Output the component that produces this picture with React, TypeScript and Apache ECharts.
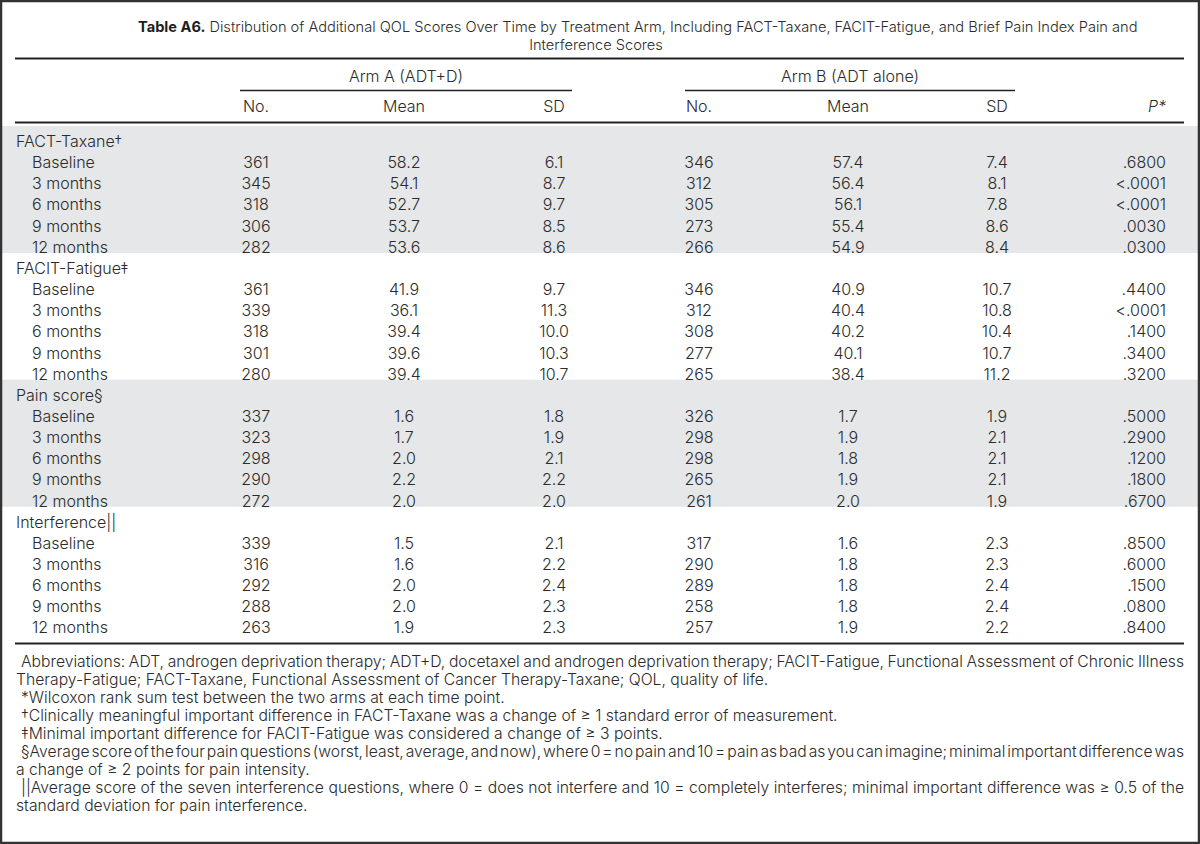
import React, { useEffect, useRef } from "react";
import * as echarts from "echarts";

const TITLE_BOLD = "Table A6.";
const TITLE_LINE1 =
  " Distribution of Additional QOL Scores Over Time by Treatment Arm, Including FACT-Taxane, FACIT-Fatigue, and Brief Pain Index Pain and";
const TITLE_LINE2 = "Interference Scores";
const ARM_LABELS = ["Arm A (ADT+D)", "Arm B (ADT alone)"];
const COLUMN_HEADERS = ["No.", "Mean", "SD", "No.", "Mean", "SD"];
const P_HEADER = "P*";
const GROUPS = ["FACT-Taxane†", "FACIT-Fatigue‡", "Pain score§", "Interference||"];
const TIMEPOINTS = ["Baseline", "3 months", "6 months", "9 months", "12 months"];

const armANo = [361, 345, 318, 306, 282, 361, 339, 318, 301, 280, 337, 323, 298, 290, 272, 339, 316, 292, 288, 263];
const armAMean = [58.2, 54.1, 52.7, 53.7, 53.6, 41.9, 36.1, 39.4, 39.6, 39.4, 1.6, 1.7, 2.0, 2.2, 2.0, 1.5, 1.6, 2.0, 2.0, 1.9];
const armASD = [6.1, 8.7, 9.7, 8.5, 8.6, 9.7, 11.3, 10.0, 10.3, 10.7, 1.8, 1.9, 2.1, 2.2, 2.0, 2.1, 2.2, 2.4, 2.3, 2.3];
const armBNo = [346, 312, 305, 273, 266, 346, 312, 308, 277, 265, 326, 298, 298, 265, 261, 317, 290, 289, 258, 257];
const armBMean = [57.4, 56.4, 56.1, 55.4, 54.9, 40.9, 40.4, 40.2, 40.1, 38.4, 1.7, 1.9, 1.8, 1.9, 2.0, 1.6, 1.8, 1.8, 1.8, 1.9];
const armBSD = [7.4, 8.1, 7.8, 8.6, 8.4, 10.7, 10.8, 10.4, 10.7, 11.2, 1.9, 2.1, 2.1, 2.1, 1.9, 2.3, 2.3, 2.4, 2.4, 2.2];
const pValues = [
  ".6800", "<.0001", "<.0001", ".0030", ".0300",
  ".4400", "<.0001", ".1400", ".3400", ".3200",
  ".5000", ".2900", ".1200", ".1800", ".6700",
  ".8500", ".6000", ".1500", ".0800", ".8400",
];

const FOOTNOTES = [
  "Abbreviations: ADT, androgen deprivation therapy; ADT+D, docetaxel and androgen deprivation therapy; FACIT-Fatigue, Functional Assessment of Chronic Illness",
  "Therapy-Fatigue; FACT-Taxane, Functional Assessment of Cancer Therapy-Taxane; QOL, quality of life.",
  "*Wilcoxon rank sum test between the two arms at each time point.",
  "†Clinically meaningful important difference in FACT-Taxane was a change of ≥ 1 standard error of measurement.",
  "‡Minimal important difference for FACIT-Fatigue was considered a change of ≥ 3 points.",
  "§Average score of the four pain questions (worst, least, average, and now), where 0 = no pain and 10 = pain as bad as you can imagine; minimal important difference was",
  "a change of ≥ 2 points for pain intensity.",
  "||Average score of the seven interference questions, where 0 = does not interfere and 10 = completely interferes; minimal important difference was ≥ 0.5 of the",
  "standard deviation for pain interference.",
];
const FOOTNOTE_INDENT = [true, false, true, true, true, true, false, true, false];
const FOOTNOTE_JUSTIFY = [true, false, false, false, false, true, false, true, false];

// layout
const FONT = "Inter, 'Liberation Sans', Arial, sans-serif";
const WEIGHT = 300;
const FS = 16;
const TEXT = "#2b2b2b";
const RULE = "#222";
const BAND = "#e6e7e8";
const LEFT = 15;
const RIGHT = 1184;
const ROW0 = 141;
const ROWH = 21.15;
const COLX = [256, 404, 554, 699, 848, 997];
const PX = 1166;
const ARM_SPAN = [
  [240, 572],
  [685, 1015],
];
const TITLE_X0 = 138;
const TITLE_X1 = 1138;
const TITLE2_CX = 596;
const FOOT_REF_LINE = 3;
const FOOT_REF_END = 838;

function buildGraphics() {
  const els: any[] = [];
  const canvas = document.createElement("canvas");
  const ctx = canvas.getContext("2d");
  const measure = (s: string, fs: number, weight: any = WEIGHT) => {
    if (!ctx) return s.length * fs * 0.5;
    ctx.font = `${weight} ${fs}px ${FONT}`;
    return ctx.measureText(s).width;
  };

  const txt = (x: number, y: number, text: string, align = "left", fs = FS, extra: any = {}) => ({
    type: "text",
    x,
    y,
    style: {
      text,
      fill: TEXT,
      fontSize: fs,
      fontFamily: FONT,
      fontWeight: WEIGHT,
      align,
      verticalAlign: "middle",
      ...extra,
    },
  });
  const hline = (x1: number, x2: number, y: number, w: number) => ({
    type: "line",
    shape: { x1, y1: y, x2, y2: y },
    style: { stroke: RULE, lineWidth: w },
  });

  // bands
  GROUPS.forEach((_, g) => {
    if (g % 2 === 0) {
      els.push({
        type: "rect",
        shape: { x: 0, y: ROW0 + g * 6 * ROWH - 15, width: 1200, height: 6 * ROWH },
        style: { fill: BAND },
      });
    }
  });

  // title: fit line 1 between TITLE_X0 and TITLE_X1
  const w15 = measure(TITLE_BOLD, 15, "bold") + measure(TITLE_LINE1, 15);
  const tfs = Math.min(17, (15 * (TITLE_X1 - TITLE_X0)) / w15);
  els.push({
    type: "text",
    x: TITLE_X0,
    y: 27,
    style: {
      text: `{b|${TITLE_BOLD}}{n|${TITLE_LINE1}}`,
      align: "left",
      verticalAlign: "middle",
      rich: {
        b: { fontWeight: "bold", fontSize: tfs, fontFamily: FONT, fill: "#1e1e1e" },
        n: { fontWeight: WEIGHT, fontSize: tfs, fontFamily: FONT, fill: TEXT },
      },
    },
  });
  els.push(txt(TITLE2_CX, 45, TITLE_LINE2, "center", tfs));

  // rules
  els.push(hline(LEFT, RIGHT, 58.5, 2));
  els.push(hline(LEFT, RIGHT, 122.5, 2));
  els.push(hline(LEFT, RIGHT, 643.5, 2));
  ARM_SPAN.forEach(([a, b], i) => {
    els.push(hline(a, b, 90.5, 1.3));
    els.push(txt((a + b) / 2, 76, ARM_LABELS[i], "center"));
  });
  COLUMN_HEADERS.forEach((h, i) => els.push(txt(COLX[i], 106, h, "center")));
  els.push(txt(PX, 106, P_HEADER, "right", FS, { fontStyle: "italic" }));

  // body
  GROUPS.forEach((gname, g) => {
    const gy = ROW0 + g * 6 * ROWH;
    els.push(txt(16, gy, gname));
    TIMEPOINTS.forEach((tp, t) => {
      const r = g * 5 + t;
      const y = gy + (t + 1) * ROWH;
      els.push(txt(32, y, tp));
      const cells = [
        String(armANo[r]),
        armAMean[r].toFixed(1),
        armASD[r].toFixed(1),
        String(armBNo[r]),
        armBMean[r].toFixed(1),
        armBSD[r].toFixed(1),
      ];
      cells.forEach((c, i) => els.push(txt(COLX[i], y, c, "center")));
      els.push(txt(PX, y, pValues[r], "right"));
    });
  });

  // footnotes: size chosen so the reference line reaches its measured end
  const refW = measure(FOOTNOTES[FOOT_REF_LINE], 15);
  const ffs = Math.min(18, (15 * (FOOT_REF_END - 21)) / refW);
  FOOTNOTES.forEach((line, i) => {
    const y = 661 + i * 18.1;
    const x0 = FOOTNOTE_INDENT[i] ? 21 : 16;
    if (FOOTNOTE_JUSTIFY[i] && ctx) {
      const words = line.split(" ");
      const widths = words.map((w) => measure(w, ffs));
      const total = widths.reduce((a, b) => a + b, 0);
      const gap = (RIGHT - x0 - total) / (words.length - 1);
      let x = x0;
      const children: any[] = [];
      words.forEach((w, k) => {
        children.push(txt(x, y, w, "left", ffs));
        x += widths[k] + gap;
      });
      els.push({ type: "group", children });
    } else {
      els.push(txt(x0, y, line, "left", ffs));
    }
  });

  // frame
  els.push({
    type: "rect",
    shape: { x: 1, y: 1, width: 1198, height: 842 },
    style: { fill: "none", stroke: "#333", lineWidth: 2.5 },
  });
  return els;
}

export default function App() {
  const ref = useRef<HTMLDivElement>(null);
  useEffect(() => {
    if (!ref.current) return;
    const chart = echarts.init(ref.current, undefined, { renderer: "svg" });
    chart.setOption({
      animation: false,
      backgroundColor: "#ffffff",
      graphic: { elements: buildGraphics() },
    });
    return () => chart.dispose();
  }, []);
  return (
    <div
      ref={ref}
      style={{ position: "fixed", left: 0, top: 0, width: 1200, height: 844 }}
    />
  );
}
